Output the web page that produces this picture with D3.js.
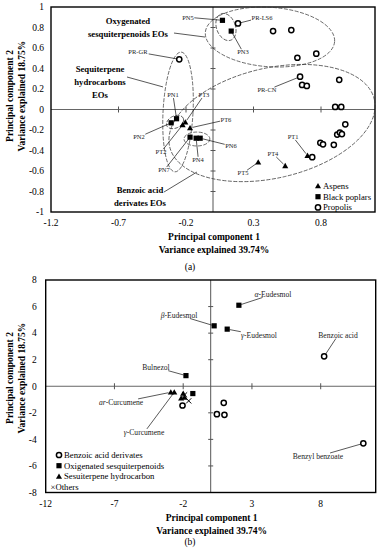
<html>
<script src="https://d3js.org/d3.v7.min.js"></script>
<head>
<style>
body { margin:0; background:#fff; }
svg { display:block; font-family:"Liberation Serif", "Times New Roman", serif; }
</style>
</head>
<body>
<svg width=380 height=550></svg>
<script>

// ---------- panel (a) data ----------
var aspens = [
  {name:"PT1", x:0.70, y:-0.45}, {name:"PT4", x:0.535, y:-0.55}, {name:"PT5", x:0.335, y:-0.515},
  {name:"PT6", x:-0.17, y:-0.18}, {name:"PT3", x:-0.205, y:-0.125}, {name:"PT2", x:-0.225, y:-0.15}
];
var blackPoplars = [
  {name:"PN5", x:0.07, y:0.87}, {name:"PN3", x:0.135, y:0.765},
  {name:"PN1", x:-0.27, y:-0.09}, {name:"PN2", x:-0.31, y:-0.13},
  {name:"PN7", x:-0.17, y:-0.27}, {name:"PN4", x:-0.125, y:-0.28}, {name:"PN6", x:-0.095, y:-0.28}
];
var propolis = [
  {name:"PR-LS6", x:0.185, y:0.84}, {x:0.445, y:0.765}, {x:0.58, y:0.775}, {x:0.625, y:0.505}, {x:0.765, y:0.545},
  {name:"PR-GR", x:-0.25, y:0.49}, {name:"PR-CN", x:0.645, y:0.32}, {x:0.66, y:0.24}, {x:0.695, y:0.23},
  {x:0.935, y:0.29}, {x:0.905, y:0.025}, {x:0.95, y:0.025}, {x:0.98, y:-0.145},
  {x:0.92, y:-0.245}, {x:0.94, y:-0.225}, {x:0.955, y:-0.24},
  {x:0.795, y:-0.325}, {x:0.815, y:-0.34}, {x:0.895, y:-0.345}, {x:0.735, y:-0.465}
];
var ticksXa = [-1.2, -0.7, -0.2, 0.3, 0.8];
var ticksYa = [-1, -0.8, -0.6, -0.4, -0.2, 0, 0.2, 0.4, 0.6, 0.8, 1];

// where each sample label sits (data units)
var labelsA = [
  {name:"PN5", lx:-0.185, ly:0.90}, {name:"PR-LS6", lx:0.363, ly:0.90}, {name:"PN3", lx:0.222, ly:0.56},
  {name:"PR-GR", lx:-0.556, ly:0.56}, {name:"PR-CN", lx:0.40, ly:0.19}, {name:"PN1", lx:-0.296, ly:0.14},
  {name:"PT3", lx:-0.067, ly:0.14}, {name:"PT6", lx:0.096, ly:-0.10}, {name:"PN6", lx:0.133, ly:-0.356},
  {name:"PN4", lx:-0.111, ly:-0.49}, {name:"PN2", lx:-0.548, ly:-0.268}, {name:"PT2", lx:-0.385, ly:-0.415},
  {name:"PN7", lx:-0.363, ly:-0.59}, {name:"PT1", lx:0.593, ly:-0.268}, {name:"PT4", lx:0.444, ly:-0.434},
  {name:"PT5", lx:0.222, ly:-0.62}
];
// dashed group ellipses (data units, rotation in degrees)
var ellipsesA = [
  {cx:0.422, cy:0.707, rx:0.48, ry:0.29, rot:4},
  {cx:0.096, cy:0.805, rx:0.07, ry:0.137, rot:-20},
  {cx:-0.259, cy:-0.024, rx:0.111, ry:0.585, rot:3},
  {cx:-0.281, cy:-0.122, rx:0.067, ry:0.059, rot:-25},
  {cx:-0.119, cy:-0.288, rx:0.096, ry:0.068, rot:0},
  {cx:0.437, cy:-0.132, rx:0.778, ry:0.537, rot:-13}
];
var groupsA = [
  {lines:["Oxygenated", "sesquiterpenoids EOs"], lx:-0.63, ly:0.863, x1:-0.289, y1:0.746, x2:-0.059, y2:0.707},
  {lines:["Sequiterpene", "hydrocarbons", "EOs"], lx:-0.837, ly:0.40, x1:-0.637, y1:0.317, x2:-0.37, y2:0.22},
  {lines:["Benzoic acid", "derivates EOs"], lx:-0.541, ly:-0.785, x1:-0.363, y1:-0.805, x2:-0.119, y2:-0.61}
];

// ---------- panel (b) data ----------
var benzoicDerivates = [
  {name:"Benzoic acid", x:8.25, y:2.25}, {name:"Benzyl benzoate", x:11.1, y:-4.3},
  {x:0.95, y:-1.25}, {x:0.45, y:-2.1}, {x:1.0, y:-2.15}, {x:-2.05, y:-1.45}
];
var oxySesq = [
  {name:"α-Eudesmol", x:2.05, y:6.1}, {name:"β-Eudesmol", x:0.25, y:4.55}, {name:"γ-Eudesmol", x:1.2, y:4.3},
  {name:"Bulnezol", x:-1.8, y:0.8}, {x:-1.3, y:-0.55}
];
var sesqHydro = [
  {name:"ar-Curcumene", x:-2.9, y:-0.45}, {name:"γ-Curcumene", x:-2.65, y:-0.45},
  {x:-2.0, y:-0.55}, {x:-1.9, y:-0.85}, {x:-2.15, y:-0.9}
];
var others = [ {x:-1.6, y:-1.1}, {x:-1.9, y:-0.65} ];
var ticksXb = [-12, -7, -2, 3, 8];
var ticksYb = [-8, -6, -4, -2, 0, 2, 4, 6, 8];

var labelsB = [
  {name:"α-Eudesmol", lx:4.53, ly:6.94}, {name:"β-Eudesmol", lx:-2.3, ly:5.36},
  {name:"γ-Eudesmol", lx:3.51, ly:3.85}, {name:"Benzoic acid", lx:9.26, ly:3.85},
  {name:"Bulnezol", lx:-3.98, ly:1.43}, {name:"ar-Curcumene", lx:-6.52, ly:-1.21},
  {name:"γ-Curcumene", lx:-4.85, ly:-3.47}, {name:"Benzyl benzoate", lx:7.8, ly:-5.28}
];

var svg = d3.select("svg");

//markers
function marker(g, type, px, py) {
  if (type == "circle") {
    g.append("circle").attr("cx", px).attr("cy", py).attr("r", 2.6)
      .attr("fill", "#fff").attr("stroke", "#000").attr("stroke-width", 1.5);
  } else if (type == "square") {
    g.append("rect").attr("x", px-2.6).attr("y", py-2.6).attr("width", 5.2).attr("height", 5.2).attr("fill", "#000");
  } else if (type == "triangle") {
    g.append("path").attr("d", d3.symbol().type(d3.symbolTriangle).size(16)())
      .attr("transform", "translate(" + px + "," + (py+0.5) + ")").attr("fill", "#000");
  } else {
    g.append("path").attr("d", "M-2.6,-2.6L2.6,2.6M-2.6,2.6L2.6,-2.6")
      .attr("transform", "translate(" + px + "," + py + ")").attr("stroke", "#000").attr("stroke-width", 1);
  }
}

// frame, cross axes and tick labels
function frame(g, x, y, tx, ty, xt, labelGap) {
  var x0 = x.range()[0], x1 = x.range()[1], y0 = y.range()[1], y1 = y.range()[0];
  g.append("line").attr("x1", x0).attr("x2", x1).attr("y1", y(0)).attr("y2", y(0)).attr("stroke", "#666").attr("stroke-width", 1);
  g.append("line").attr("x1", x(0)).attr("x2", x(0)).attr("y1", y0).attr("y2", y1).attr("stroke", "#555").attr("stroke-width", 1);
  tx.slice(1).forEach(function(v) {
    g.append("line").attr("x1", x(v)).attr("x2", x(v)).attr("y1", y(0)-3).attr("y2", y(0)+3).attr("stroke", "#555");
  });
  ty.slice(1, -1).forEach(function(v) {
    if (v == 0) return;
    g.append("line").attr("x1", x(0)-2.5).attr("x2", x(0)+2.5).attr("y1", y(v)).attr("y2", y(v)).attr("stroke", "#555");
  });
  g.append("rect").attr("x", x0).attr("y", y0).attr("width", x1-x0).attr("height", y1-y0)
    .attr("fill", "none").attr("stroke", "#000").attr("stroke-width", 1.4);

  g.selectAll(".xl").data(tx).enter().append("text")
    .attr("x", function(d) {return x(d);}).attr("y", y1 + 14).attr("text-anchor", "middle")
    .style("font-size", "9.5px").text(function(d) {return String(d);});
  g.selectAll(".yl").data(ty).enter().append("text")
    .attr("x", x0 - labelGap).attr("y", function(d) {return y(d);}).attr("dy", "0.35em").attr("text-anchor", "end")
    .style("font-size", "9.5px").text(function(d) {return String(d);});

  var cx = (x0 + x1) / 2 + 1;
  g.append("text").attr("x", cx).attr("y", y1 + 28).attr("text-anchor", "middle")
    .style("font-size", "9.5px").style("font-weight", "bold").text("Principal component 1");
  g.append("text").attr("x", cx).attr("y", y1 + 41).attr("text-anchor", "middle")
    .style("font-size", "9.5px").style("font-weight", "bold").text(xt);
}

function yTitle(g, cy, t2) {
  g.append("text").attr("transform", "translate(13," + cy + ") rotate(-90)").attr("text-anchor", "middle")
    .style("font-size", "9.5px").style("font-weight", "bold").text("Principal component 2");
  g.append("text").attr("transform", "translate(25," + cy + ") rotate(-90)").attr("text-anchor", "middle")
    .style("font-size", "9.5px").style("font-weight", "bold").text(t2);
}

// sample label + leader line from the label box to the point
function label(g, x, y, d, pt, size) {
  var t = g.append("text").attr("x", x(d.lx)).attr("y", y(d.ly)).attr("dy", "0.35em")
    .attr("text-anchor", "middle").style("font-size", size + "px").attr("fill", "#222");
  var m = d.name.match(/^(α|β|γ|ar)-(.*)$/);
  if (m) {
    t.append("tspan").style("font-style", "italic").text(m[1]);
    t.append("tspan").text("-" + m[2]);
  } else t.text(d.name);
  var b = t.node().getBBox();
  var cx = b.x + b.width/2, cy = y(d.ly);
  var px = x(pt.x), py = y(pt.y), dx = px - cx, dy = py - cy;
  var s = Math.min(Math.abs((b.width/2 + 0.5) / (dx || 1e-6)), Math.abs((size*0.45) / (dy || 1e-6)));
  var len = Math.sqrt(dx*dx + dy*dy), e = 2.5 / len;
  g.append("line").attr("x1", cx + dx*s).attr("y1", cy + dy*s).attr("x2", px - dx*e).attr("y2", py - dy*e)
    .attr("stroke", "#111").attr("stroke-width", 0.7);
}

// ================= panel (a) =================
var ga = svg.append("g");
var xa = d3.scaleLinear().domain([-1.2, 1.2]).range([51, 375]);
var ya = d3.scaleLinear().domain([-1, 1]).range([212, 7]);
frame(ga, xa, ya, ticksXa, ticksYa, "Variance explained 39.74%", 7);
yTitle(ga, 96, "Variance explained 18.75%");

ellipsesA.forEach(function(e) {
  ga.append("ellipse").attr("cx", 0).attr("cy", 0)
    .attr("rx", xa(e.rx) - xa(0)).attr("ry", ya(0) - ya(e.ry))
    .attr("transform", "translate(" + xa(e.cx) + "," + ya(e.cy) + ") rotate(" + e.rot + ")")
    .attr("fill", "none").attr("stroke", "#333").attr("stroke-width", 0.7).attr("stroke-dasharray", "4,1.5");
});

groupsA.forEach(function(gr) {
  gr.lines.forEach(function(l, i) {
    ga.append("text").attr("x", xa(gr.lx)).attr("y", ya(gr.ly) + i*13).attr("dy", "0.35em")
      .attr("text-anchor", "middle").style("font-size", "8.7px").style("font-weight", "bold").text(l);
  });
  ga.append("line").attr("x1", xa(gr.x1)).attr("y1", ya(gr.y1)).attr("x2", xa(gr.x2)).attr("y2", ya(gr.y2))
    .attr("stroke", "#111").attr("stroke-width", 0.7);
});

var allA = aspens.concat(blackPoplars, propolis);
labelsA.forEach(function(d) {
  var pt = allA.filter(function(p) {return p.name == d.name;})[0];
  label(ga, xa, ya, d, pt, 6.5);
});

propolis.forEach(function(d) { marker(ga, "circle", xa(d.x), ya(d.y)); });
blackPoplars.forEach(function(d) { marker(ga, "square", xa(d.x), ya(d.y)); });
aspens.forEach(function(d) { marker(ga, "triangle", xa(d.x), ya(d.y)); });

var legA = [["triangle", "Aspens"], ["square", "Black poplars"], ["circle", "Propolis"]];
legA.forEach(function(l, i) {
  var ly = 186 + i*10.7;
  marker(ga, l[0], 318, ly);
  ga.append("text").attr("x", 323).attr("y", ly).attr("dy", "0.35em").style("font-size", "8.7px").text(l[1]);
});
ga.append("text").attr("x", 190).attr("y", 270).attr("text-anchor", "middle").style("font-size", "9.5px").text("(a)");

// ================= panel (b) =================
var gb = svg.append("g");
var xb = d3.scaleLinear().domain([-12, 12]).range([45.7, 375.7]);
var yb = d3.scaleLinear().domain([-8, 8]).range([492.5, 280]);
frame(gb, xb, yb, ticksXb, ticksYb, "Variance explained 39.74%", 9);
yTitle(gb, 378, "Variance explained 18.75%");

var allB = benzoicDerivates.concat(oxySesq, sesqHydro);
labelsB.forEach(function(d) {
  var pt = allB.filter(function(p) {return p.name == d.name;})[0];
  label(gb, xb, yb, d, pt, 7.6);
});

benzoicDerivates.forEach(function(d) { marker(gb, "circle", xb(d.x), yb(d.y)); });
oxySesq.forEach(function(d) { marker(gb, "square", xb(d.x), yb(d.y)); });
sesqHydro.forEach(function(d) { marker(gb, "triangle", xb(d.x), yb(d.y)); });
others.forEach(function(d) { marker(gb, "cross", xb(d.x), yb(d.y)); });

var legB = [["circle", "Benzoic acid derivates"], ["square", "Oxigenated sesquiterpenoids"], ["triangle", "Sesuiterpene hydrocarbon"]];
legB.forEach(function(l, i) {
  var ly = 455 + i*10.7;
  marker(gb, l[0], 59, ly);
  gb.append("text").attr("x", 64).attr("y", ly).attr("dy", "0.35em").style("font-size", "8.7px").text(l[1]);
});
gb.append("text").attr("x", 50.5).attr("y", 487.2).attr("dy", "0.35em").style("font-size", "8.7px").text("×Others");
gb.append("text").attr("x", 190).attr("y", 545).attr("text-anchor", "middle").style("font-size", "9.5px").text("(b)");

</script>
</body>
</html>
